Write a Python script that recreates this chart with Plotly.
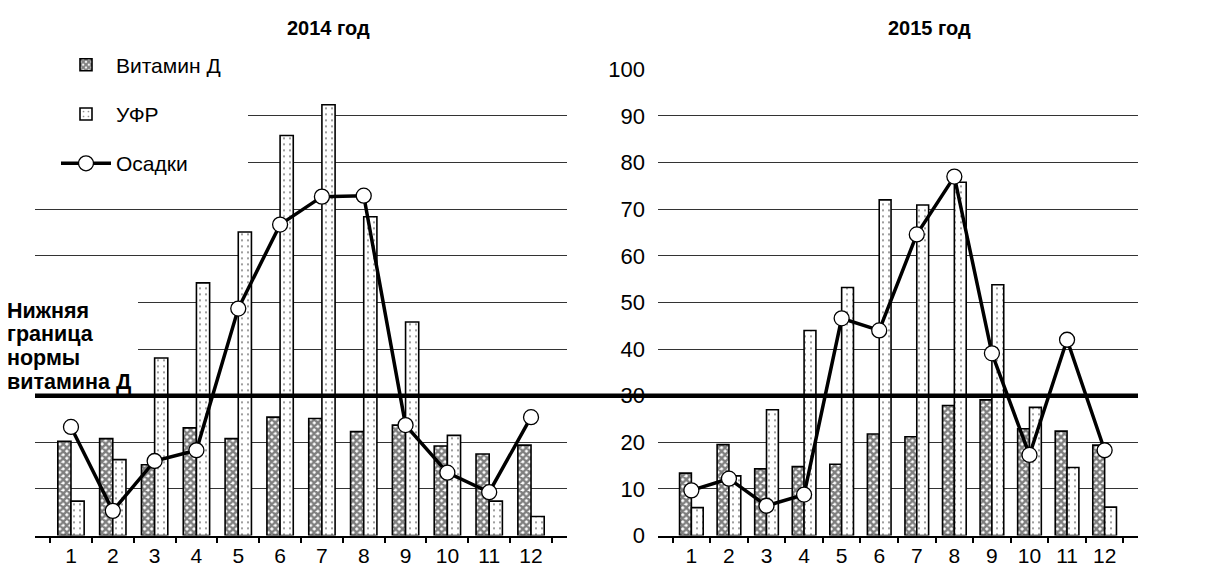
import plotly.graph_objects as go

months = [str(i) for i in range(1, 13)]
vitd_2014 = [20.2, 20.8, 15.2, 23.1, 20.8, 25.4, 25.1, 22.3, 23.7, 19.2, 17.5, 19.4]
ufr_2014 = [7.4, 16.3, 38.1, 54.2, 65.1, 85.8, 92.4, 68.4, 45.8, 21.5, 7.4, 4.1]
prec_2014 = [23.3, 5.3, 16.0, 18.3, 48.7, 66.7, 72.7, 72.9, 23.7, 13.5, 9.3, 25.4]
vitd_2015 = [13.4, 19.5, 14.3, 14.8, 15.3, 21.8, 21.2, 27.9, 29.1, 22.9, 22.4, 19.4]
ufr_2015 = [6.0, 12.8, 27.0, 44.0, 53.2, 72.0, 70.9, 75.8, 53.8, 27.5, 14.6, 6.1]
prec_2015 = [9.7, 12.2, 6.4, 8.8, 46.6, 44.0, 64.6, 77.0, 39.1, 17.3, 42.0, 18.3]
norm_level = 30
y_ticks = list(range(0, 101, 10))
note_lines = ["Нижняя", "граница", "нормы", "витамина Д"]

W, H = 1217, 572
FONT = "Liberation Sans, Arial, sans-serif"

def fx(x):
    # target x position (reference pixels) -> paper fraction
    return (x - 8) / W

def fy(y):
    # target y position (reference pixels) -> paper fraction
    g = (y - 19.3) / 0.963
    return 1 - g / H

vit_pattern = dict(shape="x", size=5, solidity=0.72, fgcolor="black", bgcolor="white")
ufr_pattern = dict(shape=".", size=6, solidity=0.09, fgcolor="black", bgcolor="white")

fig = go.Figure()

panels = [
    ("x", "y", vitd_2014, ufr_2014, prec_2014, True),
    ("x2", "y2", vitd_2015, ufr_2015, prec_2015, False),
]
for xa, ya, vd, uf, pr, show in panels:
    fig.add_trace(go.Bar(
        x=months, y=vd, name="Витамин Д", xaxis=xa, yaxis=ya,
        marker=dict(color="white", pattern=vit_pattern, line=dict(color="black", width=1.6)),
        showlegend=show, legendgroup="g1", offsetgroup="a",
    ))
    fig.add_trace(go.Bar(
        x=months, y=uf, name="УФР", xaxis=xa, yaxis=ya,
        marker=dict(color="white", pattern=ufr_pattern, line=dict(color="black", width=1.6)),
        showlegend=show, legendgroup="g2", offsetgroup="b",
    ))
    fig.add_trace(go.Scatter(
        x=months, y=pr, name="Осадки", xaxis=xa, yaxis=ya, mode="lines+markers",
        line=dict(color="black", width=3.5),
        marker=dict(symbol="circle", size=15, color="white", line=dict(color="black", width=1.3)),
        showlegend=show, legendgroup="g3",
    ))

LEFT_X = (35, 567)
RIGHT_X = (658, 1138)

y_dom = [fy(538.5), fy(69)]
axis_common = dict(
    type="category", showgrid=False, zeroline=False, showline=True,
    linecolor="black", linewidth=1.5, ticks="outside", tickson="boundaries",
    ticklen=6, tickwidth=1.5, tickcolor="black",
    tickfont=dict(family=FONT, size=21, color="black"),
)
grid_common = dict(range=[0, 100], tickvals=y_ticks, showgrid=True, gridcolor="#333333",
                   gridwidth=1, zeroline=False, showline=False, ticks="")
fig.update_layout(
    xaxis=dict(domain=[fx(LEFT_X[0]), fx(LEFT_X[1])], anchor="y", **axis_common),
    xaxis2=dict(domain=[fx(RIGHT_X[0]), fx(RIGHT_X[1])], anchor="y2", **axis_common),
    yaxis=dict(domain=y_dom, anchor="x", showticklabels=False, **grid_common),
    yaxis2=dict(domain=y_dom, anchor="x2", showticklabels=True, ticklabelstandoff=12,
                tickfont=dict(family=FONT, size=22, color="black"), **grid_common),
    barmode="group", bargap=0.37, bargroupgap=0,
    width=W, height=H, margin=dict(l=0, r=0, t=0, b=0),
    paper_bgcolor="white", plot_bgcolor="white",
    font=dict(family=FONT, size=21, color="black"),
    showlegend=True,
    legend=dict(x=fx(56), y=fy(44), xanchor="left", yanchor="top",
                bgcolor="rgba(0,0,0,0)", borderwidth=0, tracegroupgap=19,
                font=dict(family=FONT, size=21, color="black"),
                itemwidth=50, traceorder="grouped"),
)

# white masks hiding the grid behind the legend and the note
fig.add_shape(type="rect", xref="paper", yref="paper", x0=fx(LEFT_X[0] - 1), x1=fx(248),
              y0=fy(186), y1=fy(45), fillcolor="white", line=dict(width=0), layer="above")
fig.add_shape(type="rect", xref="paper", yref="paper", x0=fx(LEFT_X[0] - 1), x1=fx(138),
              y0=fy(390), y1=fy(296), fillcolor="white", line=dict(width=0), layer="above")

fig.add_shape(type="line", xref="paper", yref="y", x0=fx(LEFT_X[0]), x1=fx(RIGHT_X[1]),
              y0=norm_level, y1=norm_level, line=dict(color="black", width=4.5), layer="above")

title_y = 1 - 8 / H
fig.add_annotation(text="<b>2014 год</b>", xref="paper", yref="paper", x=fx(328), y=title_y,
                   xanchor="center", yanchor="middle", showarrow=False,
                   font=dict(family=FONT, size=20, color="black"))
fig.add_annotation(text="<b>2015 год</b>", xref="paper", yref="paper", x=fx(929), y=title_y,
                   xanchor="center", yanchor="middle", showarrow=False,
                   font=dict(family=FONT, size=20, color="black"))
for i, line in enumerate(note_lines):
    fig.add_annotation(text="<b>" + line + "</b>", xref="paper", yref="paper",
                       x=fx(5), y=fy(312 + 24 * i), xanchor="left", yanchor="middle",
                       showarrow=False, font=dict(family=FONT, size=21.5, color="black"))

fig.write_html("out.html")
